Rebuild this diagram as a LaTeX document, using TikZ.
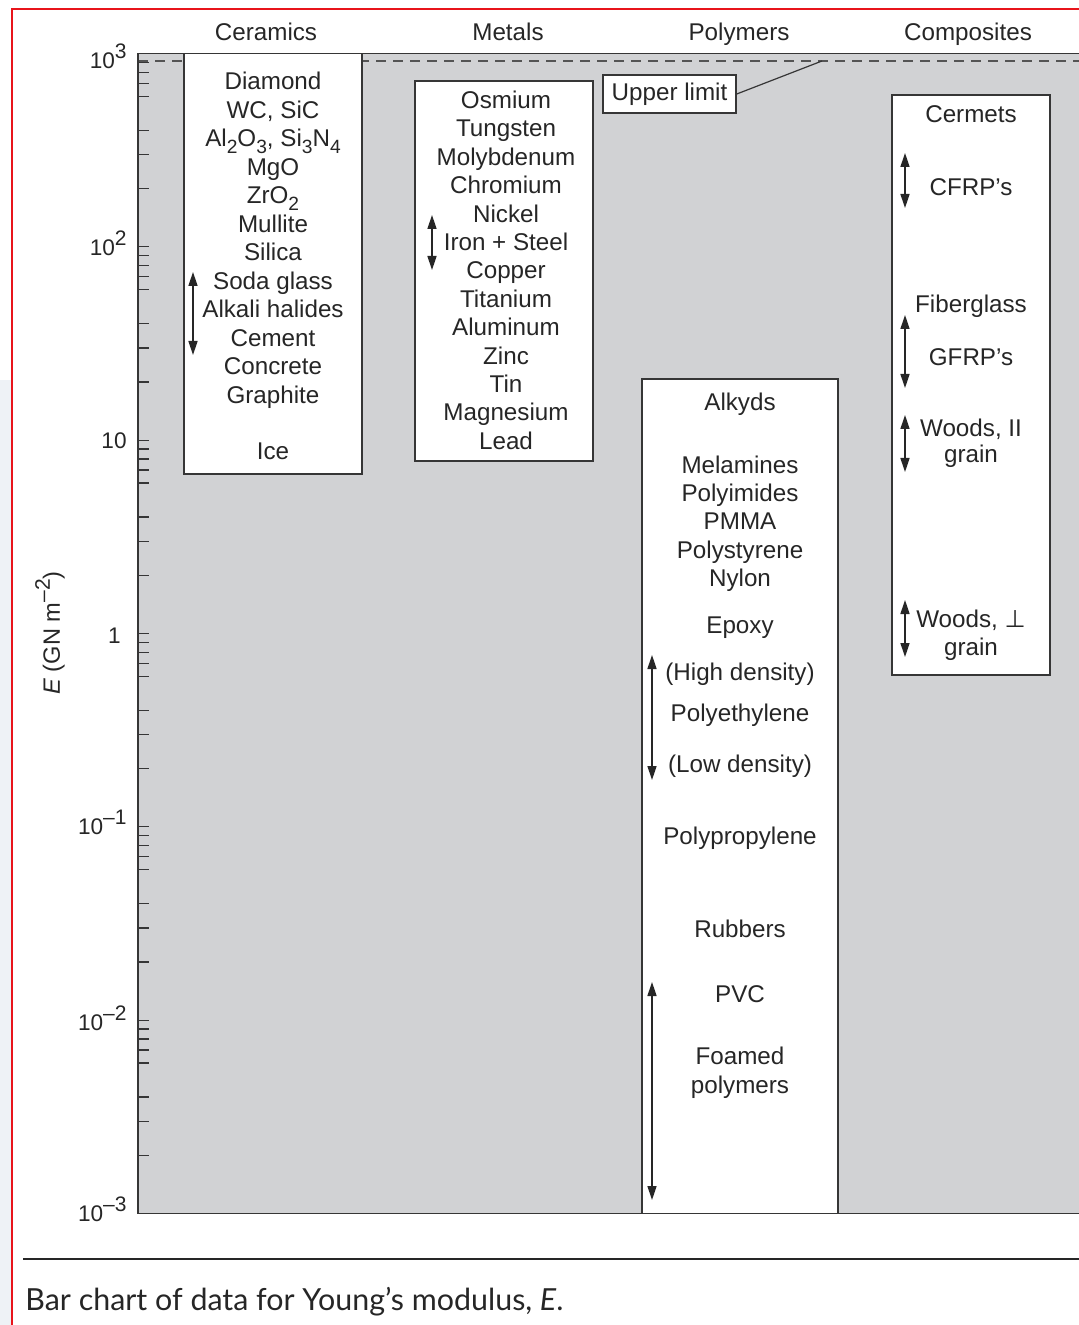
\documentclass[tikz,border=0pt]{standalone}
\usepackage{fontspec}
\setmainfont{Liberation Sans}
\newfontfamily\capfont{Lato}
\newfontfamily\symfont{DejaVu Sans}
\usetikzlibrary{arrows.meta}
\definecolor{plotgray}{HTML}{D1D2D4}
\definecolor{inkgray}{HTML}{363636}
\definecolor{framered}{HTML}{E8141B}
\definecolor{palebg}{HTML}{EEF2F6}
\newcommand\decexp[1]{\raisebox{5pt}{\fontsize{10.5}{10.5}\selectfont#1}}
\newcommand\lowsub[1]{\raisebox{-3.2pt}{\fontsize{9.6}{9.6}\selectfont#1}}

\begin{document}
\begin{tikzpicture}[
  x=0.5pt, y=-0.5pt,
  font=\fontsize{12.1}{14}\selectfont,
  bar/.style={draw=inkgray, line width=0.75pt, fill=white},
  lbl/.style={anchor=base, inner sep=0pt, text=black!85},
  num/.style={anchor=base east, inner sep=0pt, font=\fontsize{11.3}{13}\selectfont, text=black!85},
  rangemark/.style={<->, >={Triangle[length=7pt,width=4.5pt]}, line width=0.75pt, draw=black!85},
  tickmark/.style={draw=inkgray, line width=0.65pt}
]
  \useasboundingbox (0,0) rectangle (1079,1325);

  % page edge
  \fill[palebg] (0,380) rectangle (11,1325);
  \draw[framered, line width=1pt] (12,1325) -- (12,9) -- (1079,9);

  % plot field and upper limit
  \fill[plotgray] (138,53.5) rectangle (1079,1213.5);
  \draw[inkgray!85, line width=0.6pt, dash pattern=on 5pt off 3.5pt] (138,61) -- (1079,61);

  % bars
  \draw[bar] (184,53.5) rectangle (362,474);
  \draw[bar] (415,81) rectangle (593,461);
  \draw[bar] (642,379) rectangle (838,1213.5);
  \draw[bar] (892,95) rectangle (1050,675);

  % axis and ticks
  \draw[inkgray, line width=0.75pt] (1079,53.5) -- (138,53.5) -- (138,1213.5) -- (1079,1213.5);
  \foreach \k in {0,...,5}
    \foreach \m in {1,2,3,4,6,7,8,9}
      \draw[tickmark] (138,{1213.5-193.33*(\k+log10(\m))}) -- ++(11,0);

  \node[num] (e3) at (127,69) {10\decexp{3}};
  \node[num] (e2) at (127,256) {10\decexp{2}};
  \node[num] (e1) at (127,449) {10};
  \node[num] (e0) at (121,643) {1};
  \node[num] (em1) at (127,834) {10\decexp{–1}};
  \node[num] (em2) at (127,1030) {10\decexp{–2}};
  \node[num] (em3) at (127,1221) {10\decexp{–3}};
  \node[rotate=90, inner sep=0pt, text=black!85, font=\fontsize{11.8}{13}\selectfont] (ylab) at (50,633) {\textit{E} (GN m\decexp{–2})};

  % column heads
  \node[lbl] (hcer) at (266,40.7) {Ceramics};
  \node[lbl] (hmet) at (508,40.7) {Metals};
  \node[lbl] (hpol) at (739,40.7) {Polymers};
  \node[lbl] (hcom) at (968,40.7) {Composites};

  % ceramics
  \foreach \t [count=\i from 0] in {Diamond, {WC, SiC}, {Al\lowsub{2}O\lowsub{3}, Si\lowsub{3}N\lowsub{4}}, MgO, {ZrO\lowsub{2}}, Mullite, Silica, Soda glass, Alkali halides, Cement, Concrete, Graphite}
    \node[lbl] (cer\i) at (273,{90+28.5*\i}) {\t};
  \node[lbl] (ice) at (273,459.5) {Ice};

  % metals
  \foreach \t [count=\i from 0] in {Osmium, Tungsten, Molybdenum, Chromium, Nickel, Iron + Steel, Copper, Titanium, Aluminum, Zinc, Tin, Magnesium, Lead}
    \node[lbl] (met\i) at (506,{108.5+28.4*\i}) {\t};

  % polymers
  \foreach \b/\t [count=\i] in {410.5/Alkyds, 473.5/Melamines, 501.5/Polyimides, 529.5/PMMA, 558.5/Polystyrene, 586.5/Nylon, 633.5/Epoxy, 680/{(High density)}, 721.5/Polyethylene, 772.5/{(Low density)}, 844.5/Polypropylene, 937.5/Rubbers, 1002.5/PVC, 1064.5/Foamed, 1093/polymers}
    \node[lbl] (pol\i) at (740,\b) {\t};

  % composites
  \foreach \b/\t [count=\i] in {123/Cermets, 195.5/CFRP’s, 312.5/Fiberglass, 365.5/GFRP’s, 437/{Woods, II}, 463/grain, 627/{Woods, {\symfont ⊥}}, 655/grain}
    \node[lbl] (com\i) at (971,\b) {\t};

  % ranges
  \foreach \x/\a/\b in {193/272/355, 432/215/270, 652/655/780, 652/982/1200, 905/153/208, 905/315/388, 905/415/472, 905/600/657}
    \draw[rangemark] (\x,\a) -- (\x,\b);

  % upper limit label
  \node[draw=inkgray, line width=0.75pt, fill=white, minimum width=66.5pt, minimum height=19pt, inner sep=0pt, text=black!85] (ulim) at (669.5,94) {Upper limit};
  \coordinate (lim) at (822,61);
  \draw[inkgray, line width=0.6pt] (ulim.east) -- (lim);

  % caption
  \draw[black!85, line width=1pt] (23,1259) -- (1079,1259);
  \node[anchor=base west, inner sep=0pt, text=black!85, font=\capfont\fontsize{15.2}{18}\selectfont] (cap) at (25,1310) {Bar chart of data for Young’s modulus, \textit{E}.};
\end{tikzpicture}
\end{document}
